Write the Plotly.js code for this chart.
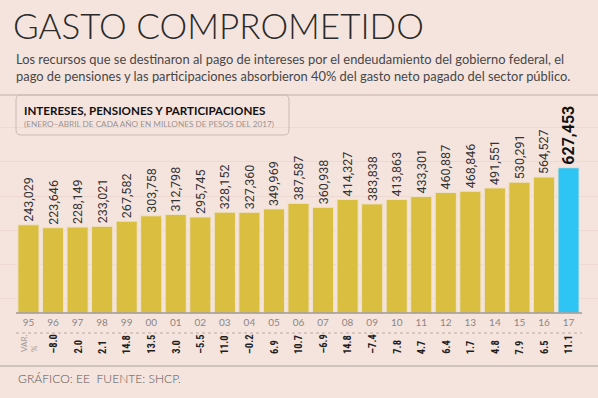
<!DOCTYPE html>
<html>
<head>
<meta charset="utf-8">
<script src="https://cdn.plot.ly/plotly-3.0.1.min.js"></script>
<style>html,body{margin:0;padding:0;background:#f5e4de;}</style>
</head>
<body>
<div id="chart" style="width:598px;height:398px;"></div>
<script>
const years = ['95','96','97','98','99','00','01','02','03','04','05','06','07','08','09','10','11','12','13','14','15','16','17'];
const values = [243029,223646,228149,233021,267582,303758,312798,295745,328152,327360,349969,387587,360938,414327,383838,413863,433301,460887,468846,491551,530291,564527,627453];
const varPct = [null,-8.0,2.0,2.1,14.8,13.5,3.0,-5.5,11.0,-0.2,6.9,10.7,-6.9,14.8,-7.4,7.8,4.7,6.4,1.7,4.8,7.9,6.5,11.1];

const titleText = 'GASTO COMPROMETIDO';
const introLines = [
  'Los recursos que se destinaron al pago de intereses por el endeudamiento del gobierno federal, el',
  'pago de pensiones y las participaciones absorbieron 40% del gasto neto pagado del sector público.'
];
const boxTitle = 'INTERESES, PENSIONES Y PARTICIPACIONES';
const boxSub = '(ENERO–ABRIL DE CADA AÑO EN MILLONES DE PESOS DEL 2017)';
const varLabel = 'VAR.<br>%';
const footer = 'GRÁFICO: EE  FUENTE: SHCP.';

// layout geometry
const W = 598, H = 398, T = 95, B = 85;
const PH = H - T - B;
const Y_MIN = -350800, Y_MAX = 1117200;
const px = p => p / W;
const py = p => (H - B - p) / PH;

const last = values.length - 1;
const barColors = values.map((v, i) => i === last ? '#2ec4f4' : '#d9be3f');
const labelSizes = values.map((v, i) => i === last ? 16 : 12.5);
const labelColors = values.map((v, i) => i === last ? '#111111' : '#333333');
const labels = values.map((v, i) => {
  const s = v.toLocaleString('en-US');
  return i === last ? '<b>' + s + '</b>' : s;
});

const trace = {
  type: 'bar',
  x: years,
  y: values.map(v => v - Y_MIN),
  base: Y_MIN,
  width: 0.86,
  marker: { color: barColors, line: { color: '#f0e2cc', width: 1 } },
  text: labels,
  textposition: 'outside',
  textangle: -90,
  textfont: { family: 'Roboto, sans-serif', size: labelSizes, color: labelColors },
  cliponaxis: false,
  constraintext: 'none',
  hoverinfo: 'skip'
};

function roundRect(x0, y0, x1, y1, r) {
  const X = p => px(p), Y = p => py(p);
  return 'M' + X(x0 + r) + ',' + Y(y0) +
    ' L' + X(x1 - r) + ',' + Y(y0) +
    ' Q' + X(x1) + ',' + Y(y0) + ' ' + X(x1) + ',' + Y(y0 + r) +
    ' L' + X(x1) + ',' + Y(y1 - r) +
    ' Q' + X(x1) + ',' + Y(y1) + ' ' + X(x1 - r) + ',' + Y(y1) +
    ' L' + X(x0 + r) + ',' + Y(y1) +
    ' Q' + X(x0) + ',' + Y(y1) + ' ' + X(x0) + ',' + Y(y1 - r) +
    ' L' + X(x0) + ',' + Y(y0 + r) +
    ' Q' + X(x0) + ',' + Y(y0) + ' ' + X(x0 + r) + ',' + Y(y0) + ' Z';
}

const annotations = [];
introLines.forEach((t, i) => {
  annotations.push({
    text: t, xref: 'paper', yref: 'paper', x: px(14), y: py(i === 0 ? 59 : 76),
    xanchor: 'left', yanchor: 'middle', showarrow: false,
    font: { family: 'Lato, sans-serif', size: 12.9, color: '#474747' }
  });
});
annotations.push({
  text: '<b>' + boxTitle + '</b>', xref: 'paper', yref: 'paper', x: px(22), y: py(110),
  xanchor: 'left', yanchor: 'middle', showarrow: false,
  font: { family: 'Lato, sans-serif', size: 11.6, color: '#111111', weight: 900 }
});
annotations.push({
  text: boxSub, xref: 'paper', yref: 'paper', x: px(22), y: py(124),
  xanchor: 'left', yanchor: 'middle', showarrow: false,
  font: { family: 'Lato, sans-serif', size: 8.2, color: '#9a9390' }
});
varPct.forEach((v, i) => {
  if (v === null) return;
  const s = v < 0 ? '–' + Math.abs(v).toFixed(1) : v.toFixed(1);
  annotations.push({
    text: '<b>' + s + '</b>', xref: 'x', yref: 'paper', x: i, y: py(356),
    xanchor: 'center', yanchor: 'bottom', textangle: -90, showarrow: false,
    font: { family: 'Liberation Sans Narrow, Roboto Condensed, Roboto, sans-serif', size: 10.5, color: '#1e1e1e' }
  });
});
annotations.push({
  text: varLabel, xref: 'x', yref: 'paper', x: 0, y: py(354),
  xanchor: 'center', yanchor: 'bottom', textangle: -90, showarrow: false, align: 'left',
  font: { family: 'Lato, sans-serif', size: 8, color: '#a09a98' }
});
annotations.push({
  text: footer, xref: 'paper', yref: 'paper', x: px(16), y: py(378),
  xanchor: 'left', yanchor: 'middle', showarrow: false,
  font: { family: 'Lato, sans-serif', size: 12.1, color: '#555555', weight: 300 }
});

const shapes = [
  { type: 'line', xref: 'paper', yref: 'paper', x0: 0, x1: 1, y0: py(95), y1: py(95),
    line: { color: '#dccac2', width: 2 } },
  { type: 'path', xref: 'paper', yref: 'paper', path: roundRect(16, 95, 289, 135, 5),
    line: { color: '#cbbab3', width: 1 } },
  { type: 'line', xref: 'paper', yref: 'paper', x0: px(16), x1: px(582), y0: 0, y1: 0,
    line: { color: '#9c9896', width: 1.5 } },
  { type: 'line', xref: 'paper', yref: 'paper', x0: px(16), x1: px(582), y0: py(333), y1: py(333),
    line: { color: '#b3aaa6', width: 1, dash: 'dot' } },
  { type: 'line', xref: 'paper', yref: 'paper', x0: 0, x1: 1, y0: py(366), y1: py(366),
    line: { color: '#aaa29e', width: 1 } }
];

const layout = {
  width: W, height: H,
  margin: { l: 0, r: 0, t: T, b: B, pad: 0 },
  paper_bgcolor: '#f5e4de',
  plot_bgcolor: '#f5e4de',
  showlegend: false,
  title: {
    text: titleText, x: px(13), xref: 'paper', xanchor: 'left',
    y: 1 - 27 / H, yref: 'container', yanchor: 'middle',
    font: { family: 'Lato, sans-serif', size: 35, color: '#2a2a2a', weight: 300 }
  },
  xaxis: {
    type: 'category', range: [-1.16, 23.2], fixedrange: true,
    showgrid: false, zeroline: false, showline: false, ticks: '',
    tickfont: { family: 'Lato, sans-serif', size: 10, color: '#8c8684' },
    ticklabelstandoff: 2
  },
  yaxis: {
    range: [Y_MIN, Y_MAX], fixedrange: true,
    showticklabels: false, zeroline: false, showline: false, ticks: '',
    showgrid: true, gridcolor: '#eed9d2', gridwidth: 1,
    tick0: -20900, dtick: 229000
  },
  shapes: shapes,
  annotations: annotations
};

Plotly.newPlot('chart', [trace], layout, { displayModeBar: false, staticPlot: true });
</script>
</body>
</html>
